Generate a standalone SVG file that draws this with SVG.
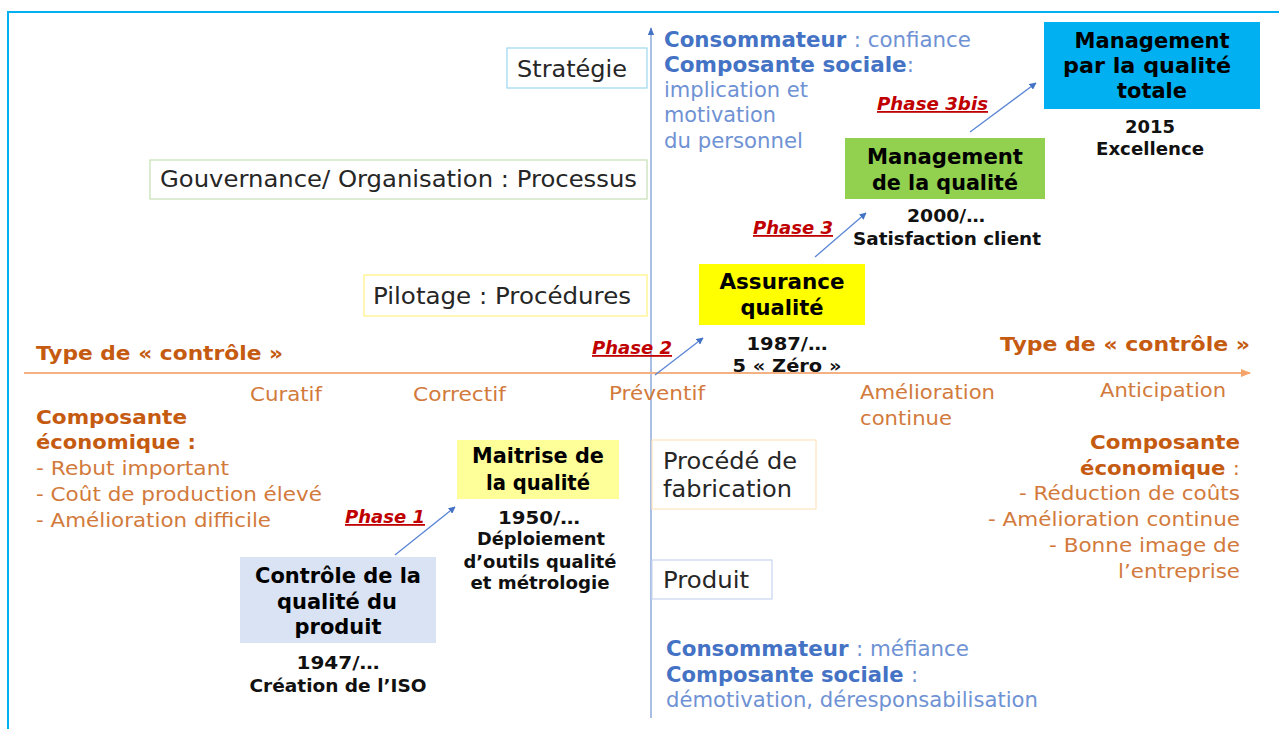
<svg xmlns="http://www.w3.org/2000/svg" width="1279" height="729" viewBox="0 0 1279 729">
<style>
text{font-family:"DejaVu Sans","Noto Sans",sans-serif;}
.lbl{font-size:23px;fill:#262626;}
.nb{font-size:21px;font-weight:bold;fill:#000;text-anchor:middle;}
.nd{font-size:18px;font-weight:bold;fill:#111;text-anchor:middle;}
.ob{font-size:20px;font-weight:bold;fill:#c55a11;}
.or{font-size:20px;fill:#d27a3c;}
.bb{font-size:21px;font-weight:bold;fill:#4472c4;}
.br{font-size:21px;fill:#6f92d4;}
.ph{font-size:18px;font-weight:bold;font-style:italic;fill:#c00000;text-decoration:underline;}
.pa{stroke:#5b86d6;stroke-width:1.3;fill:none;marker-end:url(#ah);}
</style>
<defs>
<marker id="ah" viewBox="0 0 10 10" refX="9" refY="5" markerWidth="7" markerHeight="7" orient="auto" markerUnits="userSpaceOnUse"><path d="M0,0 L10,5 L0,10 z" fill="#4472c4"/></marker>
<marker id="ahv" viewBox="0 0 10 10" refX="9" refY="5" markerWidth="8" markerHeight="8" orient="auto" markerUnits="userSpaceOnUse"><path d="M0,1 L10,5 L0,9 z" fill="#4472c4"/></marker>
<marker id="aho" viewBox="0 0 10 10" refX="9" refY="5" markerWidth="10" markerHeight="10" orient="auto" markerUnits="userSpaceOnUse"><path d="M0,1 L10,5 L0,9 z" fill="#f4a36a"/></marker>
</defs>
<rect width="1279" height="729" fill="#fff"/>
<rect x="8" y="12" width="1300" height="740" fill="none" stroke="#00b0f0" stroke-width="2"/>

<g id="connectors">
<line x1="651" y1="718" x2="651" y2="28" stroke="#8eaadb" stroke-width="1.5" marker-end="url(#ahv)"/>
<line x1="24" y1="373" x2="1250" y2="373" stroke="#f4b183" stroke-width="2" marker-end="url(#aho)"/>
<line class="pa" x1="395" y1="555" x2="455" y2="507"/>
<line class="pa" x1="655" y1="375" x2="703" y2="338"/>
<line class="pa" x1="815" y1="257" x2="866" y2="213"/>
<line class="pa" x1="970" y1="132" x2="1036" y2="83"/>
</g>

<g id="strategie">
<rect x="507" y="48" width="140" height="40" fill="#fff" stroke="#9dd8f0" stroke-width="1.2"/>
<text class="lbl" x="517" y="77" textLength="110" lengthAdjust="spacingAndGlyphs">Stratégie</text>
</g>
<g id="gouvernance">
<rect x="150" y="160" width="497" height="39" fill="#fff" stroke="#c5e0b4" stroke-width="1.2"/>
<text class="lbl" x="160" y="187" textLength="477" lengthAdjust="spacingAndGlyphs">Gouvernance/ Organisation : Processus</text>
</g>
<g id="pilotage">
<rect x="364" y="275" width="283" height="41" fill="#fff" stroke="#fff27f" stroke-width="1.2"/>
<text class="lbl" x="373" y="304" textLength="258" lengthAdjust="spacingAndGlyphs">Pilotage : Procédures</text>
</g>
<g id="procede">
<rect x="652" y="440" width="164" height="69" fill="#fff" stroke="#fde5c0" stroke-width="1.2"/>
<text class="lbl" x="663" y="469" textLength="134" lengthAdjust="spacingAndGlyphs">Procédé de</text>
<text class="lbl" x="663" y="497" textLength="129" lengthAdjust="spacingAndGlyphs">fabrication</text>
</g>
<g id="produit">
<rect x="652" y="560" width="120" height="39" fill="#fff" stroke="#c9d5ee" stroke-width="1.2"/>
<text class="lbl" x="663" y="588" textLength="86" lengthAdjust="spacingAndGlyphs">Produit</text>
</g>

<g id="tqm">
<rect x="1044" y="22" width="216" height="87" fill="#00b0f0"/>
<text class="nb" x="1152" y="48" textLength="155" lengthAdjust="spacingAndGlyphs">Management</text>
<text class="nb" x="1147" y="73" textLength="168" lengthAdjust="spacingAndGlyphs">par la qualité</text>
<text class="nb" x="1152" y="98" textLength="70" lengthAdjust="spacingAndGlyphs">totale</text>
<text class="nd" x="1150" y="133" textLength="50" lengthAdjust="spacingAndGlyphs">2015</text>
<text class="nd" x="1150" y="155" textLength="108" lengthAdjust="spacingAndGlyphs">Excellence</text>
</g>
<g id="mq">
<rect x="845" y="138" width="200" height="61" fill="#92d050"/>
<text class="nb" x="945" y="164" textLength="156" lengthAdjust="spacingAndGlyphs">Management</text>
<text class="nb" x="945" y="190" textLength="146" lengthAdjust="spacingAndGlyphs">de la qualité</text>
<text class="nd" x="946" y="222" textLength="78" lengthAdjust="spacingAndGlyphs">2000/…</text>
<text class="nd" x="947" y="245" textLength="188" lengthAdjust="spacingAndGlyphs">Satisfaction client</text>
</g>
<g id="aq">
<rect x="699" y="264" width="166" height="61" fill="#ffff00"/>
<text class="nb" x="782" y="289" textLength="125" lengthAdjust="spacingAndGlyphs">Assurance</text>
<text class="nb" x="782" y="315" textLength="83" lengthAdjust="spacingAndGlyphs">qualité</text>
<text class="nd" x="787" y="350" textLength="81" lengthAdjust="spacingAndGlyphs">1987/…</text>
<text class="nd" x="787" y="372" textLength="109" lengthAdjust="spacingAndGlyphs">5 « Zéro »</text>
</g>
<g id="maitrise">
<rect x="457" y="440" width="162" height="59" fill="#ffff99"/>
<text class="nb" x="538" y="463" textLength="132" lengthAdjust="spacingAndGlyphs">Maitrise de</text>
<text class="nb" x="538" y="490" textLength="104" lengthAdjust="spacingAndGlyphs">la qualité</text>
<text class="nd" x="539" y="524" textLength="82" lengthAdjust="spacingAndGlyphs">1950/…</text>
<text class="nd" x="541" y="545" textLength="128" lengthAdjust="spacingAndGlyphs">Déploiement</text>
<text class="nd" x="540" y="568" textLength="153" lengthAdjust="spacingAndGlyphs">d’outils qualité</text>
<text class="nd" x="540" y="589" textLength="139" lengthAdjust="spacingAndGlyphs">et métrologie</text>
</g>
<g id="controle">
<rect x="240" y="557" width="196" height="86" fill="#dae3f3"/>
<text class="nb" x="338" y="583" textLength="166" lengthAdjust="spacingAndGlyphs">Contrôle de la</text>
<text class="nb" x="337" y="609" textLength="120" lengthAdjust="spacingAndGlyphs">qualité du</text>
<text class="nb" x="338" y="634" textLength="87" lengthAdjust="spacingAndGlyphs">produit</text>
<text class="nd" x="338" y="669" textLength="83" lengthAdjust="spacingAndGlyphs">1947/…</text>
<text class="nd" x="338" y="692" textLength="177" lengthAdjust="spacingAndGlyphs">Création de l’ISO</text>
</g>

<g id="phases">
<text class="ph" x="345" y="523" textLength="80" lengthAdjust="spacingAndGlyphs">Phase 1</text>
<text class="ph" x="592" y="354" textLength="80" lengthAdjust="spacingAndGlyphs">Phase 2</text>
<text class="ph" x="753" y="234" textLength="80" lengthAdjust="spacingAndGlyphs">Phase 3</text>
<text class="ph" x="877" y="110" textLength="111" lengthAdjust="spacingAndGlyphs">Phase 3bis</text>
</g>

<g id="axis-labels">
<text class="ob" x="36" y="360" textLength="247" lengthAdjust="spacingAndGlyphs">Type de « contrôle »</text>
<text class="ob" x="1000" y="351" textLength="250" lengthAdjust="spacingAndGlyphs">Type de « contrôle »</text>
<text class="or" x="250" y="401" textLength="72" lengthAdjust="spacingAndGlyphs">Curatif</text>
<text class="or" x="413" y="401" textLength="93" lengthAdjust="spacingAndGlyphs">Correctif</text>
<text class="or" x="609" y="400" textLength="96" lengthAdjust="spacingAndGlyphs">Préventif</text>
<text class="or" x="860" y="399" textLength="135" lengthAdjust="spacingAndGlyphs">Amélioration</text>
<text class="or" x="860" y="425" textLength="92" lengthAdjust="spacingAndGlyphs">continue</text>
<text class="or" x="1100" y="397" textLength="126" lengthAdjust="spacingAndGlyphs">Anticipation</text>
</g>

<g id="eco-left">
<text class="ob" x="36" y="424" textLength="151" lengthAdjust="spacingAndGlyphs">Composante</text>
<text class="ob" x="36" y="449" textLength="160" lengthAdjust="spacingAndGlyphs">économique :</text>
<text class="or" x="36" y="475" textLength="193" lengthAdjust="spacingAndGlyphs">- Rebut important</text>
<text class="or" x="36" y="501" textLength="286" lengthAdjust="spacingAndGlyphs">- Coût de production élevé</text>
<text class="or" x="36" y="527" textLength="235" lengthAdjust="spacingAndGlyphs">- Amélioration difficile</text>
</g>
<g id="eco-right">
<text class="ob" x="1090" y="449" textLength="150" lengthAdjust="spacingAndGlyphs">Composante</text>
<text class="ob" x="1080" y="475" textLength="160" lengthAdjust="spacingAndGlyphs">économique <tspan font-weight="normal" fill="#d27a3c">:</tspan></text>
<text class="or" x="1019" y="500" textLength="221" lengthAdjust="spacingAndGlyphs">- Réduction de coûts</text>
<text class="or" x="988" y="526" textLength="252" lengthAdjust="spacingAndGlyphs">- Amélioration continue</text>
<text class="or" x="1049" y="552" textLength="191" lengthAdjust="spacingAndGlyphs">- Bonne image de</text>
<text class="or" x="1118" y="578" textLength="122" lengthAdjust="spacingAndGlyphs">l’entreprise</text>
</g>
<g id="social-top">
<text class="bb" x="664" y="47" textLength="307" lengthAdjust="spacingAndGlyphs">Consommateur <tspan font-weight="normal" fill="#6f92d4">: confiance</tspan></text>
<text class="bb" x="664" y="72" textLength="250" lengthAdjust="spacingAndGlyphs">Composante sociale<tspan font-weight="normal" fill="#6f92d4">:</tspan></text>
<text class="br" x="664" y="97" textLength="144" lengthAdjust="spacingAndGlyphs">implication et</text>
<text class="br" x="664" y="122" textLength="112" lengthAdjust="spacingAndGlyphs">motivation</text>
<text class="br" x="664" y="148" textLength="139" lengthAdjust="spacingAndGlyphs">du personnel</text>
</g>
<g id="social-bottom">
<text class="bb" x="666" y="656" textLength="303" lengthAdjust="spacingAndGlyphs">Consommateur <tspan font-weight="normal" fill="#6f92d4">: méfiance</tspan></text>
<text class="bb" x="666" y="682" textLength="252" lengthAdjust="spacingAndGlyphs">Composante sociale <tspan font-weight="normal" fill="#6f92d4">:</tspan></text>
<text class="br" x="666" y="707" textLength="372" lengthAdjust="spacingAndGlyphs">démotivation, déresponsabilisation</text>
</g>
</svg>
